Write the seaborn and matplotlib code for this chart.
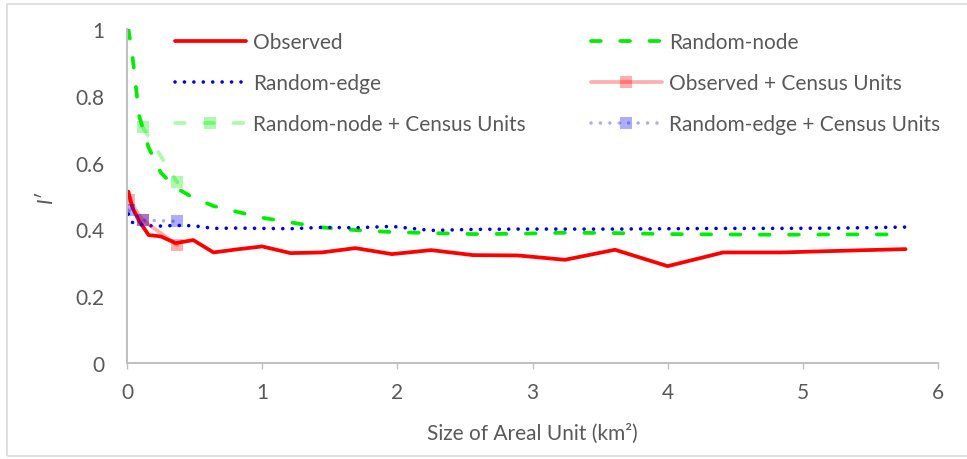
import numpy as np
import pandas as pd
import matplotlib
matplotlib.use("Agg")
import matplotlib.pyplot as plt
import seaborn as sns
from matplotlib.patches import Rectangle

# Areal unit sizes (km^2) of the regular grids
area = [0.01, 0.04, 0.09, 0.16, 0.25, 0.36, 0.49, 0.64, 0.81, 1.00, 1.21, 1.44,
        1.69, 1.96, 2.25, 2.56, 2.89, 3.24, 3.61, 4.00, 4.41, 4.84, 5.29, 5.76]

observed = [0.513, 0.465, 0.425, 0.383, 0.379, 0.359, 0.368, 0.331, 0.340, 0.349,
            0.329, 0.331, 0.344, 0.326, 0.338, 0.323, 0.322, 0.309, 0.339, 0.290,
            0.331, 0.331, 0.336, 0.341]

random_node = [1.000, 0.920, 0.740, 0.645, 0.570, 0.525, 0.495, 0.470, 0.453, 0.435,
               0.421, 0.406, 0.398, 0.392, 0.389, 0.386, 0.387, 0.390, 0.389, 0.386,
               0.385, 0.384, 0.385, 0.385]

random_edge = [0.446, 0.421, 0.415, 0.411, 0.410, 0.412, 0.411, 0.403, 0.404, 0.403,
               0.402, 0.406, 0.405, 0.409, 0.397, 0.400, 0.401, 0.401, 0.401, 0.402,
               0.403, 0.403, 0.404, 0.407]

# Census geographies (blocks, block groups, tracts)
census_area = [0.015, 0.115, 0.372]
observed_census = [0.489, 0.428, 0.353]
random_node_census = [np.nan, 0.706, 0.541]
random_edge_census = [0.457, 0.428, 0.424]

x_ticks = [0, 1, 2, 3, 4, 5, 6]
y_ticks = [0, 0.2, 0.4, 0.6, 0.8, 1.0]
y_tick_labels = ["0", "0.2", "0.4", "0.6", "0.8", "1"]

sns.set_theme(style="white")
plt.rcParams["font.family"] = ["Lato", "DejaVu Sans"]

TEXT = "#595959"
AXIS = "#bfbfbf"
FS = 15

fig = plt.figure(figsize=(9.67, 4.6), dpi=100)
W, H = 967, 460
ax = fig.add_axes([127 / W, 1 - 364 / H, 811 / W, 334 / H])

grid = pd.DataFrame({"area": area, "observed": observed,
                     "random_node": random_node, "random_edge": random_edge})
census = pd.DataFrame({"area": census_area, "observed": observed_census,
                       "random_node": random_node_census,
                       "random_edge": random_edge_census})

DASH = (0, (2.6, 5.2))
DOT = (0, (0.01, 2.6))

sns.lineplot(data=grid, x="area", y="observed", ax=ax, color="#ff0000",
             linewidth=2.7, label="Observed")
sns.lineplot(data=grid, x="area", y="random_node", ax=ax, color="#00ee00",
             linewidth=2.7, linestyle=DASH, dash_capstyle="round",
             label="Random-node")
sns.lineplot(data=grid, x="area", y="random_edge", ax=ax, color="#0000ee",
             linewidth=2.6, linestyle=DOT, dash_capstyle="round",
             label="Random-edge")

c_obs = census.dropna(subset=["observed"])
c_node = census.dropna(subset=["random_node"])
c_edge = census.dropna(subset=["random_edge"])
sns.lineplot(data=c_obs, x="area", y="observed", ax=ax, color="#ff0000",
             alpha=0.32, linewidth=2.7, marker="s", markersize=8.5,
             markeredgewidth=0, label="Observed + Census Units")
sns.lineplot(data=c_node, x="area", y="random_node", ax=ax, color="#00ee00",
             alpha=0.32, linewidth=2.7, linestyle=DASH, dash_capstyle="round",
             marker="s", markersize=8.5, markeredgewidth=0,
             label="Random-node + Census Units")
sns.lineplot(data=c_edge, x="area", y="random_edge", ax=ax, color="#0000ee",
             alpha=0.32, linewidth=2.6, linestyle=DOT, dash_capstyle="round",
             marker="s", markersize=8.5, markeredgewidth=0,
             label="Random-edge + Census Units")

ax.set_xlim(0, 6)
ax.set_ylim(0, 1)
ax.set_xticks(x_ticks)
ax.set_xticklabels([str(t) for t in x_ticks])
ax.set_yticks(y_ticks)
ax.set_yticklabels(y_tick_labels)

for side in ("top", "right"):
    ax.spines[side].set_visible(False)
for side in ("left", "bottom"):
    ax.spines[side].set_color(AXIS)
    ax.spines[side].set_linewidth(1.4)

ax.tick_params(axis="x", direction="out", length=4, width=1, color=AXIS,
               pad=10, labelsize=FS, labelcolor=TEXT, bottom=True)
ax.tick_params(axis="y", length=0, pad=16, labelsize=FS, labelcolor=TEXT)

ax.set_xlabel("Size of Areal Unit (km²)", fontsize=FS, color=TEXT)
ax.xaxis.set_label_coords(0.5, -0.18)
ax.set_ylabel("I′", fontsize=FS, color=TEXT, style="italic")
ax.yaxis.set_label_coords(-0.088, 0.5)

# Two-column legend, drawn as two independent legends
handles, labels = ax.get_legend_handles_labels()
if ax.get_legend():
    ax.get_legend().remove()
lut = dict(zip(labels, handles))
col1 = ["Observed", "Random-edge", "Random-node + Census Units"]
col2 = ["Random-node", "Observed + Census Units", "Random-edge + Census Units"]
common = dict(loc="center left", frameon=False, fontsize=FS, borderpad=0,
              borderaxespad=0, handlelength=3.4, handletextpad=0.35,
              labelspacing=1.0, labelcolor=TEXT,
              bbox_transform=fig.transFigure)
leg1 = ax.legend([lut[k] for k in col1], col1,
                 bbox_to_anchor=(175 / W, 1 - 84 / H), **common)
ax.add_artist(leg1)
ax.legend([lut[k] for k in col2], col2,
          bbox_to_anchor=(591 / W, 1 - 84 / H), **common)

# Chart frame
fig.patches.append(Rectangle((7 / W, 1 - 457 / H), 1.0, (457 - 5) / H,
                             transform=fig.transFigure, fill=False,
                             edgecolor="#d9d9d9", linewidth=1.2))

fig.savefig("out.png", dpi=100)
